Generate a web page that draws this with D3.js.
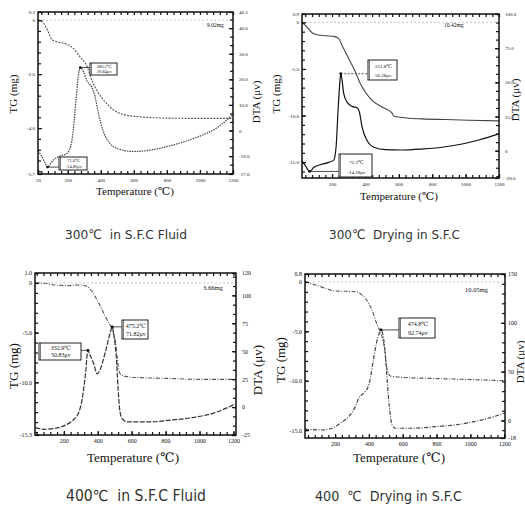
<!DOCTYPE html>
<html lang="en">
<head>
<meta charset="utf-8" />
<title>TG / DTA curves</title>
<script src="https://cdn.jsdelivr.net/npm/d3@7"></script>
<style>
  body { margin: 0; background: #fff; }
  svg text { font-family: "Liberation Serif", "DejaVu Serif", serif; fill: #111; }
  .cap { font-family: "DejaVu Sans", "Noto Sans", sans-serif; fill: #333; white-space: pre; }
</style>
</head>
<body>
<svg id="chart" width="525" height="505"></svg>
<script>
// ---- data: [temperature, value] ----
var p1Tg = [[20,0],[52,-0.10],[82,-0.43],[103,-0.72],[133,-0.80],[193,-0.89],[234,-1.05],[274,-1.36],[318,-1.73],[345,-2.22],[375,-2.59],[436,-3.09],[496,-3.40],[597,-3.56],[799,-3.63],[1000,-3.64],[1198,-3.64]];
var p1Dta = [[20,-8.0],[42,-10.0],[62,-12.6],[78,-14.3],[95,-13.0],[113,-11.6],[153,-10.0],[194,-9.0],[218,-6.1],[234,0.4],[250,12.1],[264,21.1],[276,24.6],[294,23.1],[318,19.2],[345,17.0],[365,13.3],[385,6.9],[415,-0.3],[456,-5.1],[516,-7.4],[597,-8.2],[698,-7.7],[799,-6.3],[899,-4.5],[1000,-2.2],[1101,1.0],[1198,6.2]];

var p2Tg = [[20,0],[50,-0.50],[80,-1.11],[110,-1.32],[160,-1.43],[210,-1.50],[240,-1.75],[260,-2.47],[280,-3.18],[310,-4.25],[340,-5.33],[369,-6.57],[399,-7.47],[439,-8.36],[499,-9.08],[559,-9.72],[569,-10.04],[619,-10.21],[739,-10.36],[879,-10.43],[1019,-10.50],[1198,-10.57]];
var p2Dta = [[20,-7.4],[40,-11.0],[66,-15.2],[90,-12.3],[130,-10.3],[180,-8.6],[210,-6.9],[224,2.5],[236,29.4],[246,49.0],[252,56.3],[260,51.5],[270,41.7],[290,35.5],[320,32.4],[350,31.4],[364,28.2],[380,17.2],[410,7.4],[450,2.5],[519,0.7],[619,0.5],[739,1.2],[859,2.5],[979,4.9],[1079,7.8],[1198,12.3]];

var p3Tg = [[33,0],[82,-0.03],[141,-0.2],[220,-0.27],[298,-0.2],[338,-0.37],[367,-0.88],[396,-1.71],[426,-2.72],[455,-3.73],[485,-4.73],[504,-5.9],[514,-7.4],[524,-8.76],[538,-9.26],[573,-9.43],[651,-9.53],[808,-9.6],[1004,-9.7],[1210,-9.7]];
var p3Dta = [[33,-18.4],[82,-19.9],[141,-19.3],[200,-16.8],[249,-12.3],[288,-4.8],[308,7.2],[328,30.0],[342,50.8],[356,46.0],[376,38.8],[396,29.8],[416,34.3],[445,49.4],[475,67.4],[485,71.8],[498,61.4],[510,43.3],[520,16.2],[529,-1.8],[543,-10.2],[573,-13.2],[710,-13.2],[847,-11.4],[965,-9.3],[1082,-5.4],[1210,2.7]];

var p4Tg = [[22,0],[84,-0.31],[143,-0.65],[192,-0.92],[261,-0.95],[320,-0.99],[360,-1.33],[399,-2.17],[429,-3.35],[449,-4.36],[468,-5.04],[482,-5.88],[494,-6.9],[502,-8.24],[514,-9.25],[527,-9.52],[596,-9.66],[754,-9.76],[951,-9.86],[1204,-10.0]];
var p4Dta = [[22,-9.0],[123,-9.8],[182,-8.0],[231,-2.8],[281,4.0],[320,14.3],[340,22.9],[370,28.1],[395,34.3],[409,43.5],[425,60.7],[443,77.9],[459,88.2],[472,92.7],[486,84.8],[498,65.8],[509,38.4],[521,14.3],[537,-4.6],[557,-8.0],[656,-8.0],[794,-6.4],[951,-3.6],[1070,0.6],[1204,7.5]];

// tick values
var p1XTicks = [20,200,400,600,800,1000,1200];
var p1TgTicks = [0.3,0,-2,-4,-5.7];
var p1DtaTicks = [46.3,40,30,20,10,0,-10,-17];
var p2XTicks = [200,400,600,800,1000,1200];
var p2TgTicks = [0.9,0,-5,-10,-15];
var p2DtaTicks = [100,75,50,25,0,-20];
var p3XTicks = [200,400,600,800,1000,1200];
var p3TgTicks = [1,0,-5,-10,-15.3];
var p3DtaTicks = [120,100,75,50,25,0,-25];
var p4XTicks = [200,400,600,800,1000,1200];
var p4TgTicks = [0.8,0,-5,-10,-15];
var p4DtaTicks = [150,100,50,0,-18];

// peak annotations
var p1Notes = [{t:276, v:24.6, text:["286.2\u2103","26.84\u03bcv"]}, {t:78, v:-14.3, text:["71.0\u2103","-14.86\u03bcv"]}];
var p2Notes = [{t:252, v:56.3, text:["251.8\u2103","56.28\u03bcv"]}, {t:66, v:-15.2, text:["72.2\u2103","-14.28\u03bcv"]}];
var p3Notes = [{t:342, v:50.8, text:["332.9\u2103","50.83\u03bcv"]}, {t:485, v:71.8, text:["475.2\u2103","71.82\u03bcv"]}];
var p4Notes = [{t:472, v:92.7, text:["474.8\u2103","92.74\u03bcv"]}];

var weights = ["9.02mg", "10.42mg", "3.66mg", "10.05mg"];
var captions = ["300\u2103  in S.F.C Fluid", "300\u2103  Drying in S.F.C", "400\u2103  in S.F.C Fluid", "400  \u2103  Drying in S.F.C"];

function fmt1(v) { return v === 0 ? "0" : v.toFixed(1); }
function fmt0(v) { return String(v); }

var panels = [
  { tg:p1Tg, dta:p1Dta, notes:p1Notes, xTicks:p1XTicks, tgTicks:p1TgTicks, dtaTicks:p1DtaTicks,
    xDom:[20,1200], tgDom:[-5.7,0.3], dtaDom:[-17,46.3],
    left:38, right:233, top:12, bottom:174, tgStep:0.4, dtaStep:10/3, fmtTg:fmt1, fmtDta:fmt1,
    tickFont:5, titleFont:11, tgTitle:[13,94], dtaTitle:[256,102], tTitle:[135,195], rPad:6,
    weightPos:[207,27], boxes:[[90,63,27,12],[59,157,28,13]], noteFont:4.5,
    tgDash:"2,1.2", dtaDash:"1.5,1", tgCol:"#555", dtaCol:"#444", dashedLink:[false,false] },
  { tg:p2Tg, dta:p2Dta, notes:p2Notes, xTicks:p2XTicks, tgTicks:p2TgTicks, dtaTicks:p2DtaTicks,
    xDom:[20,1200], tgDom:[-16.7,0.9], dtaDom:[-20,100],
    left:302, right:499, top:14, bottom:178, tgStep:1, dtaStep:6.25, fmtTg:fmt1, fmtDta:fmt1,
    tickFont:5, titleFont:11, tgTitle:[276,94], dtaTitle:[515,100], tTitle:[399,200], rPad:6,
    weightPos:[444,27], boxes:[[368,60,29,20],[339,154,33,23]], noteFont:5,
    tgDash:null, dtaDash:null, tgCol:"#444", dtaCol:"#111", dashedLink:[true,false] },
  { tg:p3Tg, dta:p3Dta, notes:p3Notes, xTicks:p3XTicks, tgTicks:p3TgTicks, dtaTicks:p3DtaTicks,
    xDom:[30,1215], tgDom:[-15.3,1], dtaDom:[-25,120],
    left:35, right:236, top:273, bottom:435, tgStep:1, dtaStep:25/3, fmtTg:fmt1, fmtDta:fmt0,
    tickFont:6, titleFont:13, tgTitle:[13,366], dtaTitle:[257,370], tTitle:[133,462], rPad:6,
    weightPos:[203,290], boxes:[[39,343,42,17],[122,320,26,19]], noteFont:6,
    tgDash:"4,1.5,1,1.5", dtaDash:"5,1.5", tgCol:"#555", dtaCol:"#333", dashedLink:[false,false] },
  { tg:p4Tg, dta:p4Dta, notes:p4Notes, xTicks:p4XTicks, tgTicks:p4TgTicks, dtaTicks:p4DtaTicks,
    xDom:[22,1205], tgDom:[-15.8,0.8], dtaDom:[-18,150],
    left:305, right:505, top:274, bottom:438, tgStep:1, dtaStep:10, fmtTg:fmt1, fmtDta:fmt0,
    tickFont:6, titleFont:13, tgTitle:[280,360], dtaTitle:[520,362], tTitle:[399,462], rPad:3,
    dtaTitleFont:11,
    weightPos:[465,292], boxes:[[399,318,36,20]], noteFont:6,
    tgDash:"4,1.5,1,1.5", dtaDash:"4,1.5,1,1.5", tgCol:"#555", dtaCol:"#444", dashedLink:[false] }
];

var svg = d3.select("#chart");

panels.forEach(function (p, i) {
  var g = svg.append("g");
  var x = d3.scaleLinear().domain(p.xDom).range([p.left, p.right]);
  var yTg = d3.scaleLinear().domain(p.tgDom).range([p.bottom, p.top]);
  var yDta = d3.scaleLinear().domain(p.dtaDom).range([p.bottom, p.top]);

  // reference line at 0 mg
  g.append("line")
    .attr("x1", p.left).attr("x2", p.right)
    .attr("y1", yTg(0)).attr("y2", yTg(0))
    .attr("stroke", "#bbb").attr("stroke-width", 0.8)
    .attr("stroke-dasharray", "2,2");

  var lineTg = d3.line().curve(d3.curveMonotoneX)
    .x(function (d) { return x(d[0]); }).y(function (d) { return yTg(d[1]); });
  var lineDta = d3.line().curve(d3.curveMonotoneX)
    .x(function (d) { return x(d[0]); }).y(function (d) { return yDta(d[1]); });

  g.append("path").datum(p.tg).attr("d", lineTg)
    .attr("fill", "none").attr("stroke", p.tgCol).attr("stroke-width", 1.1)
    .attr("stroke-dasharray", p.tgDash);
  g.append("path").datum(p.dta).attr("d", lineDta)
    .attr("fill", "none").attr("stroke", p.dtaCol).attr("stroke-width", 1.2)
    .attr("stroke-dasharray", p.dtaDash);

  // axes: minor ticks all round, inward
  function minor(dom, step) {
    var lo = Math.min(dom[0], dom[1]), hi = Math.max(dom[0], dom[1]);
    return d3.range(Math.ceil(lo / step) * step, hi + 1e-9, step);
  }
  var xMinor = minor(p.xDom, 40);
  var axes = [
    g.append("g").attr("transform", "translate(0," + p.bottom + ")")
      .call(d3.axisBottom(x).tickValues(xMinor).tickSize(-3).tickFormat("")),
    g.append("g").attr("transform", "translate(0," + p.top + ")")
      .call(d3.axisTop(x).tickValues(xMinor).tickSize(-3).tickFormat("")),
    g.append("g").attr("transform", "translate(" + p.left + ",0)")
      .call(d3.axisLeft(yTg).tickValues(minor(p.tgDom, p.tgStep)).tickSize(-3).tickFormat("")),
    g.append("g").attr("transform", "translate(" + p.right + ",0)")
      .call(d3.axisRight(yDta).tickValues(minor(p.dtaDom, p.dtaStep)).tickSize(-3).tickFormat("")),
    g.append("g").attr("transform", "translate(0," + p.bottom + ")")
      .call(d3.axisBottom(x).tickValues(p.xTicks).tickSize(-4).tickPadding(4).tickFormat(fmt0)),
    g.append("g").attr("transform", "translate(" + p.left + ",0)")
      .call(d3.axisLeft(yTg).tickValues(p.tgTicks).tickSize(-4).tickPadding(3).tickFormat(p.fmtTg)),
    g.append("g").attr("transform", "translate(" + p.right + ",0)")
      .call(d3.axisRight(yDta).tickValues(p.dtaTicks).tickSize(-4).tickPadding(p.rPad).tickFormat(p.fmtDta))
  ];
  axes.forEach(function (a) {
    a.select(".domain").remove();
    a.selectAll("line").attr("stroke", "#111").attr("stroke-width", 1.2);
    a.selectAll("text").attr("font-size", p.tickFont).attr("font-family", "Liberation Serif")
      .attr("fill", "#333");
  });

  // frame
  g.append("rect")
    .attr("x", p.left).attr("y", p.top)
    .attr("width", p.right - p.left).attr("height", p.bottom - p.top)
    .attr("fill", "none").attr("stroke", "#111").attr("stroke-width", 1.5);

  // sample weight
  g.append("text").attr("x", p.weightPos[0]).attr("y", p.weightPos[1])
    .attr("font-size", p.tickFont + 0.5).text(weights[i]);

  // peak notes
  p.notes.forEach(function (n, k) {
    var b = p.boxes[k];
    var px = x(n.t), py = yDta(n.v);
    var ex = px < b[0] ? b[0] : b[0] + b[2];
    var ey = Math.max(b[1] + 2, Math.min(b[1] + b[3] - 2, py));
    g.append("line").attr("x1", px).attr("y1", py).attr("x2", ex).attr("y2", ey)
      .attr("stroke", "#222").attr("stroke-width", 0.8)
      .attr("stroke-dasharray", p.dashedLink[k] ? "2,1.5" : null);
    g.append("circle").attr("cx", px).attr("cy", py).attr("r", 1.4).attr("fill", "#111");
    g.append("rect").attr("x", b[0]).attr("y", b[1]).attr("width", b[2]).attr("height", b[3])
      .attr("fill", "#fff").attr("stroke", "#222").attr("stroke-width", 1);
    g.append("line").attr("x1", b[0] + 1.5).attr("x2", b[0] + 1.5)
      .attr("y1", b[1]).attr("y2", b[1] + b[3]).attr("stroke", "#222").attr("stroke-width", 0.6);
    n.text.forEach(function (s, j) {
      g.append("text").attr("x", b[0] + b[2] / 2 + 0.8)
        .attr("y", b[1] + b[3] * (j === 0 ? 0.42 : 0.85))
        .attr("text-anchor", "middle").attr("font-size", p.noteFont).text(s);
    });
  });

  // axis titles
  g.append("text")
    .attr("transform", "translate(" + p.tgTitle[0] + "," + p.tgTitle[1] + ") rotate(-90)")
    .attr("text-anchor", "middle").attr("dy", "0.35em")
    .attr("font-size", p.titleFont).text("TG (mg)");
  g.append("text")
    .attr("transform", "translate(" + p.dtaTitle[0] + "," + p.dtaTitle[1] + ") rotate(-90)")
    .attr("text-anchor", "middle").attr("dy", "0.35em")
    .attr("font-size", p.dtaTitleFont || p.titleFont).text("DTA (\u03bcv)");
  g.append("text")
    .attr("x", p.tTitle[0]).attr("y", p.tTitle[1])
    .attr("text-anchor", "middle").attr("font-size", p.titleFont)
    .text("Temperature (\u2103)");
});

// captions under each panel
var capPos = [[65, 239, 122, 13], [329, 239, 131, 13], [66, 501, 140, 15], [315, 501, 147, 14]];
captions.forEach(function (c, i) {
  var cp = capPos[i];
  svg.append("text").attr("class", "cap")
    .attr("x", cp[0]).attr("y", cp[1])
    .attr("font-size", cp[3])
    .attr("textLength", cp[2]).attr("lengthAdjust", "spacingAndGlyphs")
    .text(c);
});
</script>
</body>
</html>
